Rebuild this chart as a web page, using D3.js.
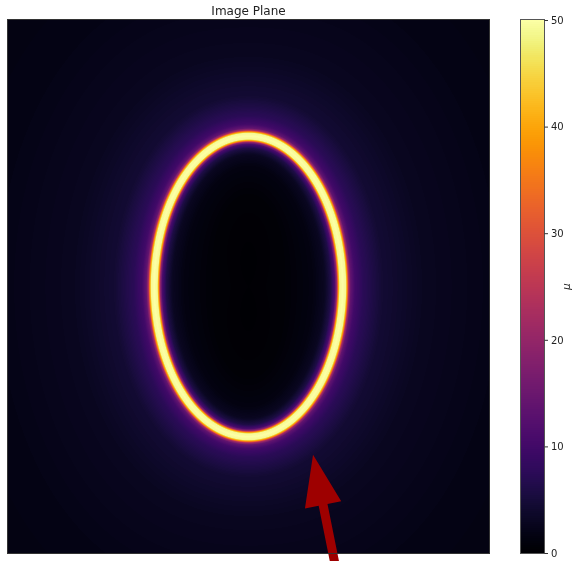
<html>
  <head>
    <script src="https://d3js.org/d3.v7.min.js"></script>
    <style type="text/css">
      body { margin: 0; background: #fff; }
      .wrap { position: relative; width: 576px; height: 561px; overflow: hidden; }
      .wrap canvas, .wrap svg { position: absolute; top: 0; left: 0; }
      text { font-family: "DejaVu Sans", sans-serif; fill: #222; }
    </style>
  </head>
  <body>
    <div class="wrap">
      <canvas id="img" width="576" height="561"></canvas>
      <svg width="576" height="561"></svg>
    </div>
    <script>
      // ring (critical curve) in image-plane units
      var ringCenter = [0, 0];
      var ringRadii = [0.94, 1.50];

      // magnification profile across the ring, offset in pixels (outside > 0)
      var profileOffset = [-260, -120, -60, -30, -18, -12, -8, -6, -4.5, -3, 0, 3, 4.5, 6, 8, 12, 20, 40, 80, 160, 320];
      var profileMu     = [0, 0.1, 0.5, 1.5, 3, 6, 11, 20, 38, 49, 50, 49, 38, 22, 14, 10, 7.5, 4.5, 2.9, 1.9, 1.2];

      var cbTicks = [0, 10, 20, 30, 40, 50];

      // arrow (tail -> tip) in image-plane units
      var arrowTail = [0.875, -2.83];
      var arrowTip = [0.644, -1.68];

      var x0 = 8, x1 = 489, y0 = 20, y1 = 553;
      var x = d3.scaleLinear().domain([-2.4, 2.4]).range([x0, x1]);
      var y = d3.scaleLinear().domain([-2.66, 2.66]).range([y1, y0]);
      var color = d3.scaleSequential(d3.interpolateInferno).domain([0, 50]);
      var profile = d3.scaleLinear().domain(profileOffset).range(profileMu).clamp(true);

      // draw the map
      var ctx = d3.select("#img").node().getContext("2d");
      var w = x1 - x0, h = y1 - y0;
      var img = ctx.createImageData(w, h);
      var cx = x(ringCenter[0]), cy = y(ringCenter[1]);
      var rx = x(ringRadii[0]) - x(0), ry = y(0) - y(ringRadii[1]);
      for (var j = 0; j < h; j++) {
        for (var i = 0; i < w; i++) {
          var dx = x0 + i + 0.5 - cx, dy = y0 + j + 0.5 - cy;
          var u = dx / rx, v = dy / ry;
          var r = Math.sqrt(u * u + v * v);
          var dist;
          if (r < 1e-6) dist = -300;
          else {
            var g = Math.sqrt(dx * dx / (rx * rx * rx * rx) + dy * dy / (ry * ry * ry * ry)) / r;
            dist = (r - 1) / g;
          }
          var c = d3.rgb(color(profile(dist)));
          var k = (j * w + i) * 4;
          img.data[k] = c.r; img.data[k + 1] = c.g; img.data[k + 2] = c.b; img.data[k + 3] = 255;
        }
      }
      ctx.putImageData(img, x0, y0);

      // colorbar
      var cbX = 521, cbW = 23;
      var cb = d3.scaleLinear().domain([0, 50]).range([y1, y0]);
      for (var p = y0; p < y1; p++) {
        ctx.fillStyle = color(cb.invert(p + 0.5));
        ctx.fillRect(cbX, p, cbW, 1);
      }

      var svg = d3.select("svg");

      // arrow
      var tx = x(arrowTail[0]), ty = y(arrowTail[1]);
      var hx = x(arrowTip[0]), hy = y(arrowTip[1]);
      var len = Math.hypot(hx - tx, hy - ty);
      var ux = (hx - tx) / len, uy = (hy - ty) / len, nx = -uy, ny = ux;
      var headLen = 51, headW = 18.5, shaftW = 4.5;
      var bx = hx - ux * headLen, by = hy - uy * headLen;
      var pts = [
        [tx + nx * shaftW, ty + ny * shaftW],
        [bx + nx * shaftW, by + ny * shaftW],
        [bx + nx * headW, by + ny * headW],
        [hx, hy],
        [bx - nx * headW, by - ny * headW],
        [bx - nx * shaftW, by - ny * shaftW],
        [tx - nx * shaftW, ty - ny * shaftW]
      ];
      svg.append("path")
        .attr("d", d3.line()(pts) + "Z")
        .attr("fill", "#9e0000");

      // frames
      svg.append("rect")
        .attr("x", x0 - 0.5).attr("y", y0 - 0.5)
        .attr("width", w + 1).attr("height", h + 1)
        .attr("fill", "none").attr("stroke", "#333").attr("stroke-width", 1);
      svg.append("rect")
        .attr("x", cbX - 0.5).attr("y", y0 - 0.5)
        .attr("width", cbW + 1).attr("height", h + 1)
        .attr("fill", "none").attr("stroke", "#555").attr("stroke-width", 1);

      var ax = svg.append("g")
        .attr("transform", "translate(" + (cbX + cbW + 0.5) + ",0)")
        .call(d3.axisRight(cb).tickValues(cbTicks).tickSize(3.5).tickPadding(3));
      ax.select(".domain").remove();
      ax.selectAll("line").attr("stroke", "#333");
      ax.selectAll("text").style("font-family", "DejaVu Sans").style("font-size", "10px").attr("fill", "#222");

      svg.append("text")
        .attr("transform", "translate(570," + ((y0 + y1) / 2) + ") rotate(-90)")
        .attr("text-anchor", "middle")
        .style("font-size", "10px").style("font-style", "italic")
        .text("μ");

      svg.append("text")
        .attr("x", (x0 + x1) / 2).attr("y", 15)
        .attr("text-anchor", "middle")
        .style("font-size", "12px")
        .text("Image Plane");
    </script>
  </body>
</html>
